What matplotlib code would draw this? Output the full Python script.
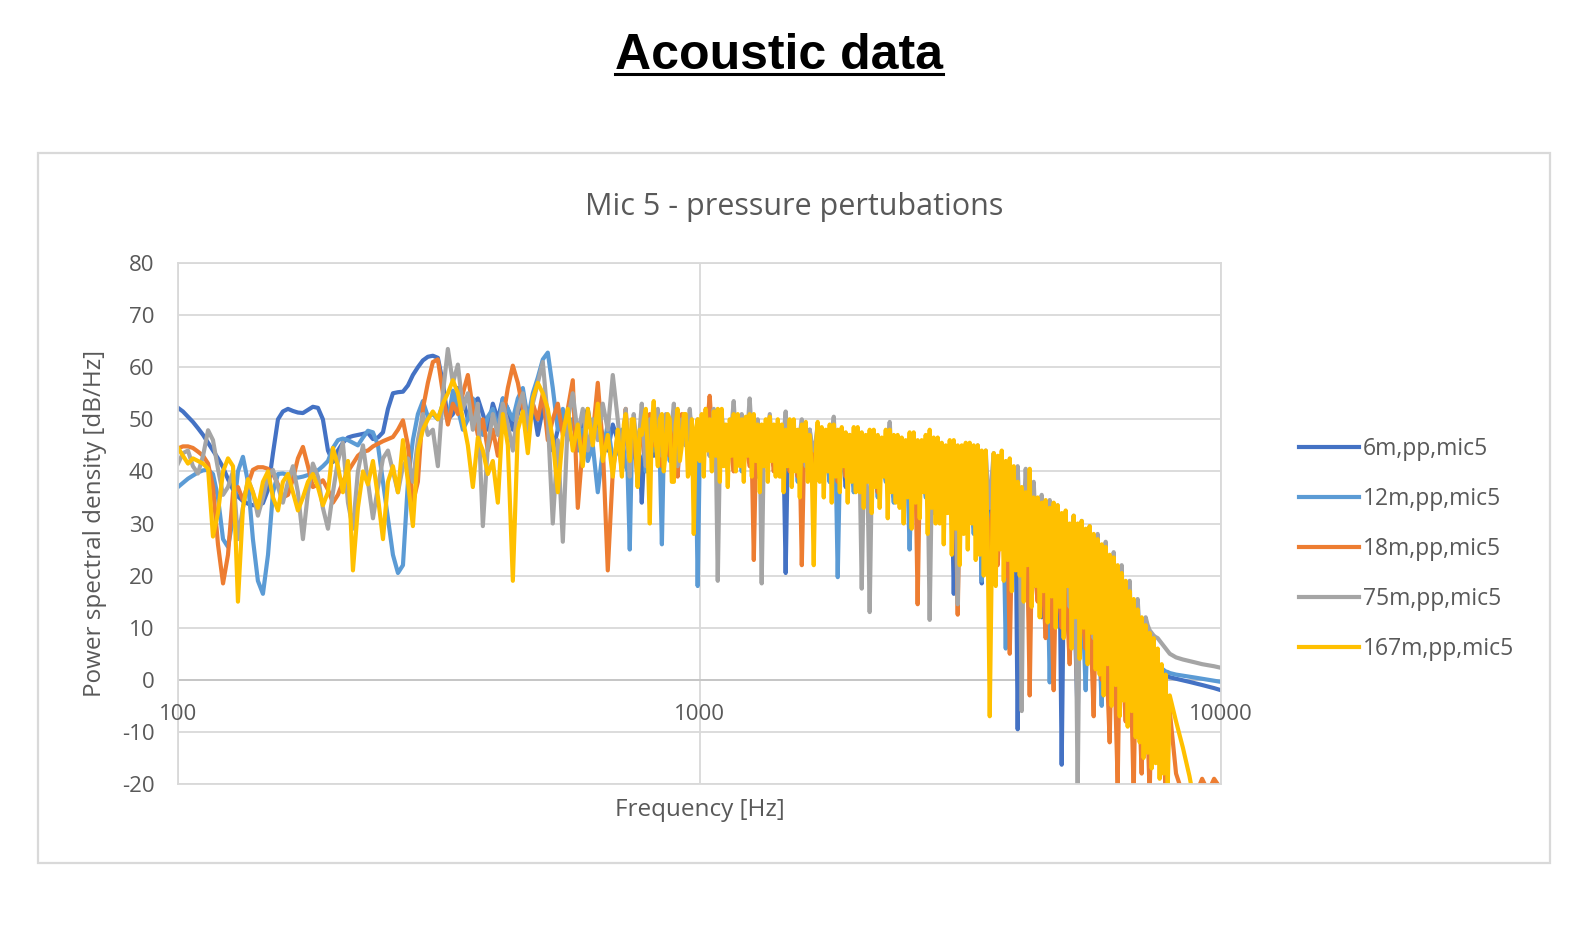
import matplotlib
matplotlib.use("Agg")
import matplotlib.pyplot as plt
from matplotlib.lines import Line2D
from matplotlib.patches import Rectangle
from matplotlib.ticker import NullLocator

plt.rcParams["font.family"] = ["Open Sans", "DejaVu Sans"]
plt.rcParams["axes.unicode_minus"] = False

GREY_TXT = "#595959"
GRID = "#d9d9d9"

# frequency bins [Hz]
FREQ = [
    # 100-700 Hz
    100, 102.2, 104.5, 106.8, 109.2, 111.7, 114.2, 116.7, 119.3, 122,
    124.7, 127.5, 130.3, 133.2, 136.2, 139.2, 142.3, 145.5, 148.8, 152.1,
    155.5, 158.9, 162.5, 166.1, 169.8, 173.6, 177.5, 181.4, 185.5, 189.6,
    193.9, 198.2, 202.6, 207.1, 211.8, 216.5, 221.3, 226.3, 231.3, 236.5,
    241.8, 247.2, 252.7, 258.3, 264.1, 270, 276, 282.1, 288.4, 294.8,
    301.4, 308.1, 315, 322.1, 329.2, 336.6, 344.1, 351.8, 359.6, 367.6,
    375.8, 384.2, 392.8, 401.5, 410.5, 419.6, 429, 438.6, 448.4, 458.4,
    468.6, 479, 489.7, 500.7, 511.8, 523.2, 534.9, 546.9, 559.1, 571.5,
    584.3, 597.3, 610.6, 624.3, 638.2, 652.4, 667, 681.9,
    # 700-8000 Hz (dense band)
    697, 703, 710, 716, 722, 728, 735, 741, 748, 754, 761, 768, 775, 782, 789, 796, 803, 810, 817, 824,
    832, 839, 847, 854, 862, 869, 877, 885, 893, 900, 908, 917, 925, 933, 941, 950, 958, 967, 975, 984,
    992, 1001, 1010, 1019, 1028, 1037, 1046, 1056, 1065, 1075, 1084, 1094, 1103, 1113, 1123, 1133, 1143, 1153, 1163, 1174,
    1184, 1195, 1205, 1216, 1227, 1238, 1248, 1260, 1271, 1282, 1293, 1305, 1316, 1328, 1340, 1352, 1364, 1376, 1388, 1400,
    1413, 1425, 1438, 1450, 1463, 1476, 1489, 1503, 1516, 1530, 1543, 1557, 1571, 1585, 1599, 1613, 1627, 1642, 1656, 1671,
    1685, 1700, 1715, 1731, 1746, 1762, 1777, 1793, 1809, 1825, 1841, 1858, 1874, 1891, 1907, 1924, 1941, 1959, 1976, 1994,
    2011, 2029, 2047, 2065, 2083, 2102, 2120, 2139, 2158, 2178, 2197, 2216, 2236, 2256, 2276, 2296, 2316, 2337, 2358, 2378,
    2399, 2420, 2442, 2463, 2485, 2507, 2529, 2552, 2575, 2597, 2620, 2644, 2667, 2691, 2715, 2739, 2763, 2788, 2812, 2837,
    2863, 2888, 2914, 2940, 2966, 2992, 3019, 3046, 3073, 3100, 3127, 3155, 3183, 3211, 3240, 3269, 3297, 3327, 3356, 3386,
    3416, 3446, 3477, 3508, 3539, 3570, 3602, 3634, 3666, 3699, 3731, 3765, 3798, 3832, 3866, 3900, 3935, 3970, 4005, 4040,
    4075, 4112, 4148, 4185, 4222, 4259, 4297, 4335, 4373, 4412, 4451, 4491, 4531, 4571, 4611, 4652, 4694, 4735, 4777, 4820,
    4862, 4905, 4949, 4993, 5037, 5082, 5127, 5172, 5218, 5264, 5311, 5358, 5406, 5454, 5502, 5551, 5600, 5650, 5700, 5750,
    5801, 5852, 5905, 5957, 6010, 6063, 6117, 6171, 6226, 6281, 6337, 6393, 6450, 6507, 6565, 6623, 6682, 6741, 6801, 6861,
    6921, 6983, 7045, 7107, 7170, 7234, 7298, 7363, 7428, 7494, 7560, 7627, 7695, 7763, 7832, 7903, 7975,
    # roll-off tail
    8200, 8450, 8700, 8950, 9200, 9450, 9700, 10000,
]

# PSD [dB/Hz], one value per FREQ bin
PSD_6M = [
    52.2, 51.5, 50.5, 49.5, 48.3, 47, 45.5, 44, 42.5, 40.8,
    38.5, 36.5, 35.2, 34.3, 33.8, 33.5, 33.6, 33.9, 36.5, 43.5,
    50, 51.5, 52, 51.6, 51.3, 51.2, 51.8, 52.4, 52.2, 50,
    44, 41.8, 44, 45.5, 46.5, 46.8, 47, 47.2, 47.4, 46.2,
    46.5, 47.5, 52, 55, 55.2, 55.3, 56.5, 58.5, 60, 61.3,
    62, 62.2, 61.8, 57, 50, 51, 56, 54, 50, 53,
    54, 51, 48, 53, 50, 54, 52, 48, 51, 55,
    50, 53, 47, 52, 49, 44, 48, 51, 47, 50,
    45, 49, 52, 46, 50, 47, 44, 49,
    46, 44, 42, 47, 48, 45, 44, 47, 49, 44, 40, 43, 34, 42, 45, 48, 50, 46, 43, 45,
    47, 45, 44, 48, 50, 46, 45, 47, 48, 44, 42, 46, 49, 47, 46, 49, 51, 47, 44, 46,
    48, 45, 43, 47, 50, 47, 45, 48, 49, 46, 44, 48, 51, 45, 42, 45, 47, 46, 45, 47,
    49, 44, 41, 46, 48, 45, 44, 48, 50, 44, 40, 44, 47, 45, 43, 47, 49, 45, 42, 45,
    47, 45, 44, 42, 20.5, 43, 45, 47, 48, 43, 40, 44, 46, 44, 42, 46, 48, 43, 39, 44,
    46, 43, 41, 45, 47, 42, 38, 43, 46, 44, 42, 44, 45, 41, 37, 42, 44, 42, 40, 43,
    45, 41, 38, 42, 44, 42, 40, 44, 46, 40, 36, 41, 43, 41, 39, 43, 45, 39, 35, 41,
    44, 40, 37, 41, 43, 41, 39, 42, 44, 38, 33, 39, 42, 39, 36, 40, 43, 38, 34, 39,
    42, 37, 33, 38, 41, 38, 36, 37, 16.5, 36, 34, 37, 40, 35, 31, 36, 39, 34, 30, 35,
    38, 34, 18.5, 33, 37, 32, 29, 33, 36, 30, 27, 32, 35, 29, 24, 30, 33, 28, 26, 29,
    -9.5, 27, 30, 25, 22, 28, 31, 23, 18, 27, 29, 20, 12, 25, 28, 19, 15, 24, 26, 18,
    24, 20, -16.3, 18, 22, 15, 10, 19, 21, 6, -7.5, 14, 19, 10, 4, 16, 18, 7, 0, 13,
    15, 6, -2, 10, 13, 5, 3, 9, 11, 2, -4, 7, 9, 3, 1, 6, 7, 1, -3, 4,
    6, 2, 0, 3.5, 4.5, 2, 1.5, 2.5, 3, 1.5, 1, 1.8, 1.8, 1.2, 0.8, 0.7, 0.5,
    0.2, -0.1, -0.4, -0.7, -1.0, -1.3, -1.6, -2.0,
]

PSD_12M = [
    37, 37.8, 38.6, 39.2, 39.8, 40.2, 40.3, 39.5, 35, 27,
    25.5, 31, 40, 42.8, 38, 27, 19, 16.5, 24, 36,
    39.5, 39.6, 39.3, 39, 38.8, 39, 39.3, 39.6, 40.2, 41,
    42, 44.5, 46, 46.3, 46, 45.5, 45, 46.5, 47.8, 47.5,
    45, 38, 31, 24, 20.5, 22, 38, 46, 51, 53.5,
    50.5, 51, 50, 53, 49.5, 55.5, 52, 48, 50, 54,
    51, 47, 50.5, 52, 48, 54, 52, 50, 54, 56,
    50, 55, 58, 61.5, 62.8, 56, 48, 52, 46, 50,
    44, 48, 42, 45, 36, 44, 49, 42,
    44, 46, 48, 44, 41, 40, 25, 42, 46, 45, 43, 47, 49, 44, 40, 45, 47, 46, 44, 45,
    46, 43, 26, 44, 49, 45, 42, 46, 48, 44, 40, 46, 50, 47, 45, 48, 47, 44, 41, 42,
    18, 43, 45, 48, 50, 46, 43, 46, 48, 45, 41, 46, 49, 46, 44, 46, 47, 44, 42, 46,
    48, 44, 40, 45, 49, 46, 43, 45, 47, 43, 39, 45, 48, 45, 42, 44, 46, 43, 41, 44,
    47, 43, 39, 44, 46, 44, 42, 45, 48, 42, 38, 43, 45, 43, 41, 44, 47, 42, 37, 43,
    46, 43, 40, 43, 45, 41, 38, 42, 44, 41, 19.7, 40, 43, 41, 39, 42, 45, 40, 36, 41,
    44, 40, 37, 41, 43, 41, 39, 42, 45, 39, 35, 40, 42, 40, 38, 41, 44, 38, 34, 40,
    43, 39, 36, 40, 42, 38, 25, 39, 43, 37, 33, 38, 41, 38, 35, 39, 42, 36, 32, 38,
    41, 36, 31, 37, 40, 36, 34, 37, 39, 34, 29, 35, 38, 35, 32, 35, 37, 33, 28, 33,
    36, 31, 19, 32, 35, 31, 30, 32, 34, 29, 26, 30, 33, 27, 6, 28, 31, 27, 25, 28,
    29, 24, 20, 25, 28, 22, 7, 23, 27, 21, 18, 23, 25, 19, 14, 20, -0.5, 18, 22, 20,
    21, 16, 12, 17, 20, 13, 6, 16, 18, 10, 3, 14, 17, 8, -2, 12, 15, 7, 4, 12,
    14, 5, -5, 9, 12, 5, 2, 8, 10, 3, -3, 6, 8, 3, 1, 5, 6.5, 2, -1, 4,
    6, 3, 1, 3.5, 4.5, 3, 2.5, 3, 3.5, 2.5, 2, 2.3, 2.2, 1.9, 1.6, 1.5, 1.3,
    1.0, 0.8, 0.6, 0.4, 0.2, 0.0, -0.2, -0.4,
]

PSD_18M = [
    44.4, 44.8, 44.8, 44.5, 43.8, 43, 41.5, 37, 26, 18.5,
    24, 36, 37, 34.5, 37.5, 40.3, 40.8, 40.8, 40.5, 39.5,
    37.5, 35, 35.5, 38.5, 42.5, 44.7, 41, 37, 37.5, 38.3,
    36.5, 34, 35.5, 38, 40, 41.5, 43, 43.8, 44, 44.8,
    45.3, 45.8, 46.2, 46.6, 48, 49.8, 45, 34, 38, 52,
    57, 61, 61.5, 55, 49, 53, 51, 55, 58.5, 52,
    47, 50, 44, 48, 43, 50, 56, 60.3, 57, 52,
    47, 53, 50, 55, 46, 50, 53, 47, 52, 57.5,
    33, 45, 50, 47, 57, 45, 21, 40,
    47, 44, 40, 47, 52, 46, 44, 48, 50, 43, 38, 45, 48, 45, 42, 47, 51, 46, 45, 47,
    49, 44, 41, 46, 50, 45, 43, 46, 48, 43, 39, 47, 51, 47, 46, 48, 50, 45, 42, 46,
    49, 46, 44, 48, 52, 50, 54.5, 48, 47, 44, 42, 46, 50, 46, 44, 46, 48, 43, 40, 45,
    49, 45, 43, 45, 47, 43, 41, 42, 23, 42, 45, 46, 48, 44, 42, 46, 49, 44, 40, 44,
    48, 45, 43, 45, 47, 43, 40, 43, 46, 42, 39, 42, 22, 41, 44, 45, 47, 43, 41, 44,
    47, 43, 40, 43, 46, 44, 42, 44, 45, 41, 38, 42, 46, 42, 39, 42, 44, 42, 41, 43,
    46, 41, 38, 41, 44, 42, 41, 43, 45, 40, 36, 40, 43, 41, 39, 42, 44, 40, 37, 41,
    44, 40, 38, 40, 43, 39, 36, 40, 44, 38, 14.5, 38, 42, 39, 37, 40, 43, 38, 35, 39,
    42, 37, 34, 38, 41, 38, 36, 38, 40, 35, 12.5, 35, 39, 34, 31, 35, 38, 33, 30, 34,
    37, 31, 28, 32, 36, 29, 25, 31, 35, 27, 22, 30, 34, 26, 20, 27, 5, 25, 26, 28,
    31, 23, 18, 26, 30, 20, -3, 22, 28, 19, 15, 23, 27, 16, 8, 20, 25, 12, -2, 18,
    24, 15, 10, 17, 22, 11, 3, 16, 21, 8, -4, 13, 19, 10, 6, 14, 18, 4, -7, 12,
    16, 5, 0, 9, 14, -2, -12, 7, 12, -6, -20, 5, 10, -1, -8, 3, 8, -6, -22, 2,
    5, -7, -18, -2, 3, -10, -22, -4, 0, -8, -14, -6, -3, -12, -22, -9, -6,
    -18, -22, -21, -22, -19, -21.5, -19, -21,
]

PSD_75M = [
    41.5, 43.5, 44, 41, 39.6, 43, 47.9, 46, 40.5, 35.5,
    37, 40, 27, 33, 38.5, 36, 31.5, 35, 39, 40.3,
    37, 34, 38, 41, 36, 27, 36, 41.5, 39, 33,
    29, 36, 42, 45.5, 34, 29, 40, 45, 38, 31,
    37, 42.5, 44, 40, 36, 41, 42.5, 38, 46, 51,
    47, 48, 41, 55, 63.5, 57, 60.5, 52, 55, 48,
    53, 29.5, 45, 51, 47, 53, 49, 44, 52, 55,
    48, 53, 57, 61, 50, 30, 46, 26.5, 50, 55,
    47, 52, 44, 50, 46, 53, 48, 58.5,
    50, 46, 44, 48, 52, 45, 39, 46, 51, 47, 45, 48, 53, 46, 41, 47, 50, 46, 46, 48,
    52, 46, 43, 47, 51, 48, 47, 49, 53, 45, 41, 46, 50, 47, 45, 48, 52, 46, 44, 47,
    50, 47, 46, 48, 51, 45, 43, 47, 52, 44, 19, 43, 49, 46, 44, 45, 46, 49, 53.5, 46,
    47, 48, 51, 45, 44, 49, 54, 47, 46, 47, 50, 45, 18.5, 44, 45, 48, 51, 45, 43, 46,
    49, 45, 44, 47, 51.5, 44, 42, 45, 48, 46, 45, 47, 50, 44, 41, 45, 48, 45, 44, 46,
    49, 44, 42, 45, 47, 45, 44, 47, 50.5, 43, 40, 44, 48, 45, 43, 45, 47, 43, 41, 44,
    46, 40, 17.5, 39, 40, 35, 13, 38, 47, 42, 39, 42, 45, 43, 41, 45, 49.5, 42, 38, 43,
    46, 42, 40, 43, 45, 41, 37, 42, 46, 43, 41, 42, 44, 40, 36, 38, 11.5, 37, 39, 42,
    46, 41, 38, 41, 44, 40, 36, 40, 45, 38, 14.5, 37, 43, 38, 35, 38, 40, 38, 37, 41,
    45, 40, 37, 41, 44, 37, 33, 39, 43.5, 36, 31, 37, 42.5, 34, 29, 36, 42, 33, 27, 35,
    41, 30, -6, 31, 40.5, 32, 26, 33, 38, 30, 24, 31, 35.5, 27, 20, 29, 34.5, 27, 22, 28,
    33.5, 24, 18, 26, 32, 21, 14, 25, 31.5, 15, -22, 17, 30.5, 20, 12, 22, 29.5, 16, 8, 20,
    28, 15, 6, 18, 26.5, 13, 4, 16, 24.5, 10, 2, 14, 22, 8, 0, 11, 19, 6, -2, 9,
    15.5, 9, 4, 8, 12, 10.5, 9.5, 9, 8.5, 8.2, 8, 7.5, 7, 6.5, 6, 5.5, 5,
    4.3, 3.9, 3.6, 3.3, 3.0, 2.8, 2.6, 2.3,
]

PSD_167M = [
    44.5, 43, 41.5, 42.5, 42, 41.5, 40.5, 27.5, 32, 40,
    42.5, 41, 15, 33, 38.5, 36, 33, 38, 40, 35,
    32.5, 38, 39.5, 36, 32.5, 35, 38, 39.5, 37, 33.5,
    36, 44.5, 41, 36, 42, 21, 33, 40, 37.5, 42,
    35, 27, 38, 41, 36, 46, 38, 29.5, 44, 48,
    50, 51.5, 50, 53, 55, 57.5, 55, 50, 45, 37,
    46.5, 44, 39.5, 42, 34, 51, 45, 19, 48, 51.5,
    43.5, 54, 57, 55, 52, 46, 36, 47, 52, 44,
    49, 41, 52, 45, 53, 42, 47, 39,
    48, 44, 39, 49, 51, 46, 42, 50, 50, 45, 37, 48, 47, 50, 52, 43, 30, 49, 53.5, 46,
    41, 50, 51, 40, 44, 51, 50, 38, 38, 49, 52, 42, 45, 51, 51, 39, 40, 50, 28, 48,
    50, 42, 51, 39, 52, 44, 50, 40, 51.5, 43, 52, 38, 52, 41, 49, 37, 50, 43, 51, 40,
    51, 41, 50, 38, 50.5, 43, 51, 39, 51, 42, 49, 36, 49, 41, 50, 38, 50.5, 42, 49, 39,
    50, 39, 49, 36, 48, 41, 50, 37, 50, 40, 48, 35, 49, 42, 49.5, 38, 47, 40, 22, 44,
    49.5, 38, 48.5, 35, 48, 40, 49, 34, 49, 39, 48, 36, 48.5, 41, 47.5, 34, 47, 38, 48.5, 36,
    48.5, 36, 47.5, 33, 47, 38, 48, 32, 48, 37, 47, 33, 46.5, 39, 48, 31, 48, 36, 47, 34,
    47, 33, 46.5, 30, 46, 35, 47.5, 29, 47.5, 34, 46, 31, 46, 36, 47, 28, 48, 33, 46.5, 30,
    46.5, 30, 45.5, 26, 45, 32, 46, 24, 46, 29, 45, 22, 45, 28, 45.5, 25, 45.5, 30, 45, 23,
    45, 24, 44, 20, 44, 26, -7, 22, 43.5, 18, 43, 25, 44, 19, 42, 23, 42.5, 17, 41, 21,
    38, 20, 37, 15, 36, 22, 40.5, 14, 35, 18, 35, 12, 34, 17, 34.5, 11, 33, 16, 34, 10,
    33.5, 14, 32, 8, 32.5, 18, 30, 6, 31.5, 12, 30, 4, 30.5, 10, 29, 3, 29.5, 9, 28, 2,
    27, 1, 26, -3, 25.5, 3, 24, -5, 23.5, -1, 22, -7, 20.5, -4, 19, -9, 17, -6, 15.5, -11,
    13.5, -12, 12, -15, 10.5, -14, 9, -17, 8, -16, 6, -19, 3, -18, 1, -21, -3,
    -8, -13, -18.5, -25, -25, -25, -25, -25,
]

LABELS = ["6m,pp,mic5", "12m,pp,mic5", "18m,pp,mic5", "75m,pp,mic5", "167m,pp,mic5"]
COLORS = ["#4472C4", "#5B9BD5", "#ED7D31", "#A5A5A5", "#FFC000"]
SERIES = [PSD_6M, PSD_12M, PSD_18M, PSD_75M, PSD_167M]

for s in SERIES:
    assert len(s) == len(FREQ), (len(s), len(FREQ))

W, H = 1596, 947
fig = plt.figure(figsize=(W / 100, H / 100), dpi=100)
fig.patch.set_facecolor("white")

# chart frame
fig.add_artist(Rectangle((38 / W, 1 - 863 / H), (1550 - 38) / W, (863 - 153) / H,
                         transform=fig.transFigure, fill=False, ec=GRID, lw=1.6))

ax = fig.add_axes([178 / W, 1 - 784 / H, (1221 - 178) / W, (784 - 263) / H])

for vals, color, label in zip(SERIES, COLORS, LABELS):
    ax.plot(FREQ, vals, color=color, lw=3.0, label=label, solid_joinstyle="round")

ax.set_xscale("log")
ax.set_xlim(100, 10000)
ax.set_ylim(-20, 80)
ax.set_yticks(range(-20, 81, 10))
ax.set_xticks([100, 1000, 10000])
ax.set_xticklabels([])
ax.xaxis.set_minor_locator(NullLocator())
ax.set_axisbelow(True)
ax.grid(True, color=GRID, lw=1.3)
ax.axhline(0, color="#c6c6c6", lw=1.4, zorder=0.8)
ax.tick_params(axis="both", length=0, labelsize=16, labelcolor=GREY_TXT, pad=17)
for sp in ax.spines.values():
    sp.set_color(GRID)
    sp.set_linewidth(1.3)

# category labels sit just under the zero line
for f in [100, 1000, 10000]:
    ax.text(f, 0.1326, f"{f}", transform=ax.get_xaxis_transform(),
            ha="center", va="center", fontsize=16, color=GREY_TXT)

fig.text(700 / W, 1 - 810 / H, "Frequency [Hz]", ha="center", va="center",
         fontsize=17.5, color=GREY_TXT)
fig.text(95 / W, 1 - 523 / H, "Power spectral density [dB/Hz]", ha="center", va="center",
         rotation=90, fontsize=17.5, color=GREY_TXT)
fig.text(794 / W, 1 - 215 / H, "Mic 5 - pressure pertubations", ha="center", va="baseline",
         fontsize=22, color=GREY_TXT)

ax.legend(loc="center left", bbox_to_anchor=(1299 / W, 1 - 549 / H), bbox_transform=fig.transFigure,
          frameon=False, fontsize=16.5, labelcolor=GREY_TXT, handlelength=2.6, handletextpad=0.2,
          labelspacing=1.13, borderpad=0, borderaxespad=0)

title = fig.text(779 / W, 1 - 69 / H, "Acoustic data", ha="center", va="baseline",
                 fontsize=36, fontweight="bold", family=["Liberation Sans", "DejaVu Sans"], color="black")

fig.canvas.draw()
bb = title.get_window_extent(fig.canvas.get_renderer())
fig.add_artist(Line2D([bb.x0 / W, bb.x1 / W], [1 - 74 / H, 1 - 74 / H],
                      transform=fig.transFigure, color="black", lw=2.2))

fig.savefig("out.png", dpi=100, facecolor="white")
